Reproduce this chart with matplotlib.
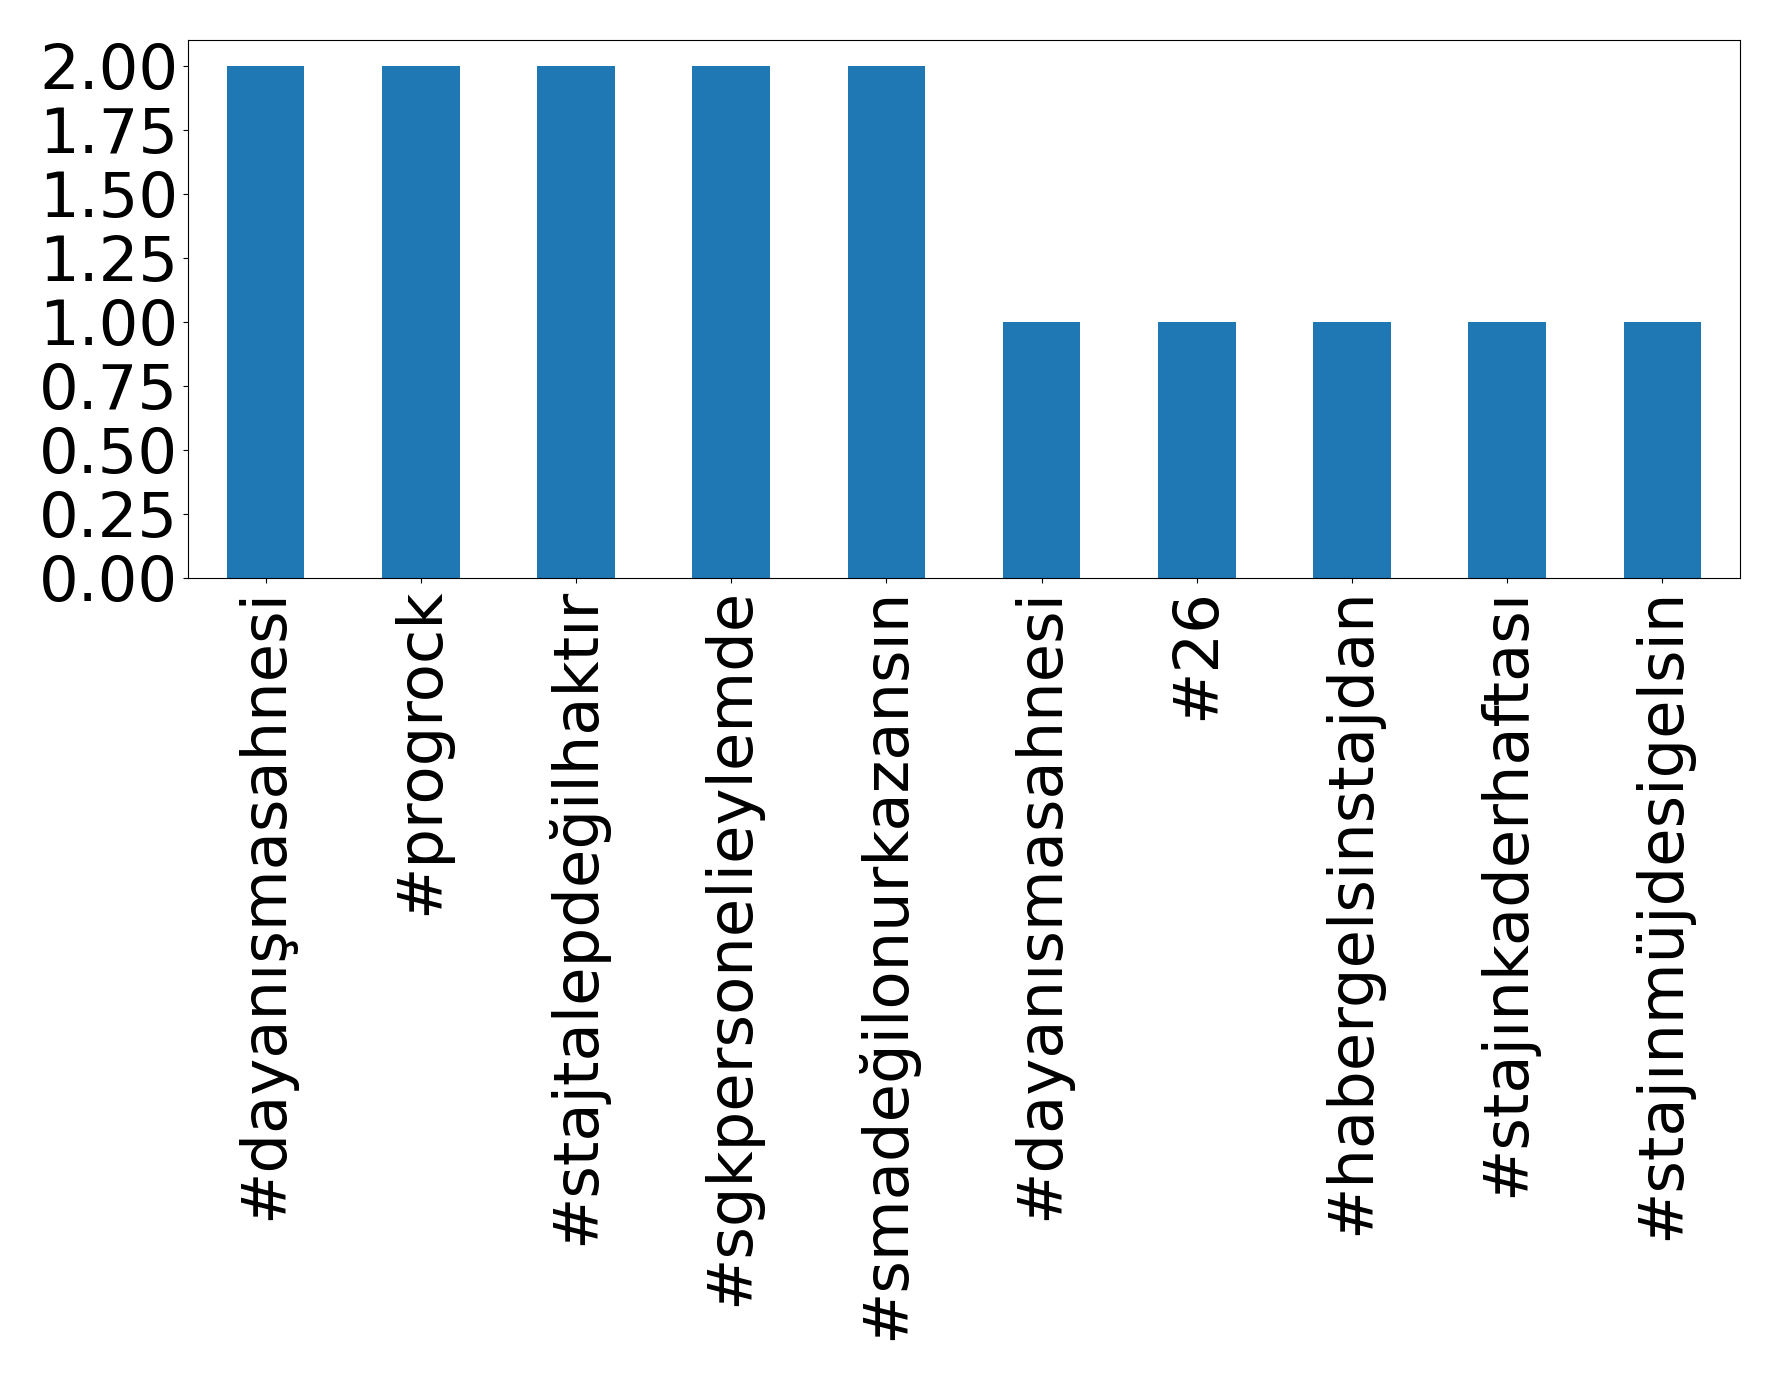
import matplotlib
matplotlib.use("Agg")
import matplotlib.pyplot as plt
import numpy as np

hashtags = [
    "#dayanışmasahnesi",
    "#progrock",
    "#stajtalepdeğilhaktır",
    "#sgkpersonelieylemde",
    "#smadeğilonurkazansın",
    "#dayanısmasahnesi",
    "#26",
    "#habergelsinstajdan",
    "#stajınkaderhaftası",
    "#stajınmüjdesigelsin",
]
counts = [2, 2, 2, 2, 2, 1, 1, 1, 1, 1]

fig = plt.figure(figsize=(17.78, 13.81), dpi=100)
ax = fig.add_axes([0.1057, 0.5815, 0.8729, 0.3895])

x = np.arange(len(hashtags))
ax.bar(x, counts, width=0.5, color="#1f77b4")
ax.set_xlim(-0.5, len(hashtags) - 0.5)
ax.set_ylim(0, 2.1)
ax.set_yticks(np.arange(0, 2.01, 0.25))
ax.set_yticklabels([f"{v:.2f}" for v in np.arange(0, 2.01, 0.25)])
ax.set_xticks(x)
ax.set_xticklabels(hashtags, rotation=90)
ax.tick_params(labelsize=45)

fig.savefig("out.png", dpi=100)
